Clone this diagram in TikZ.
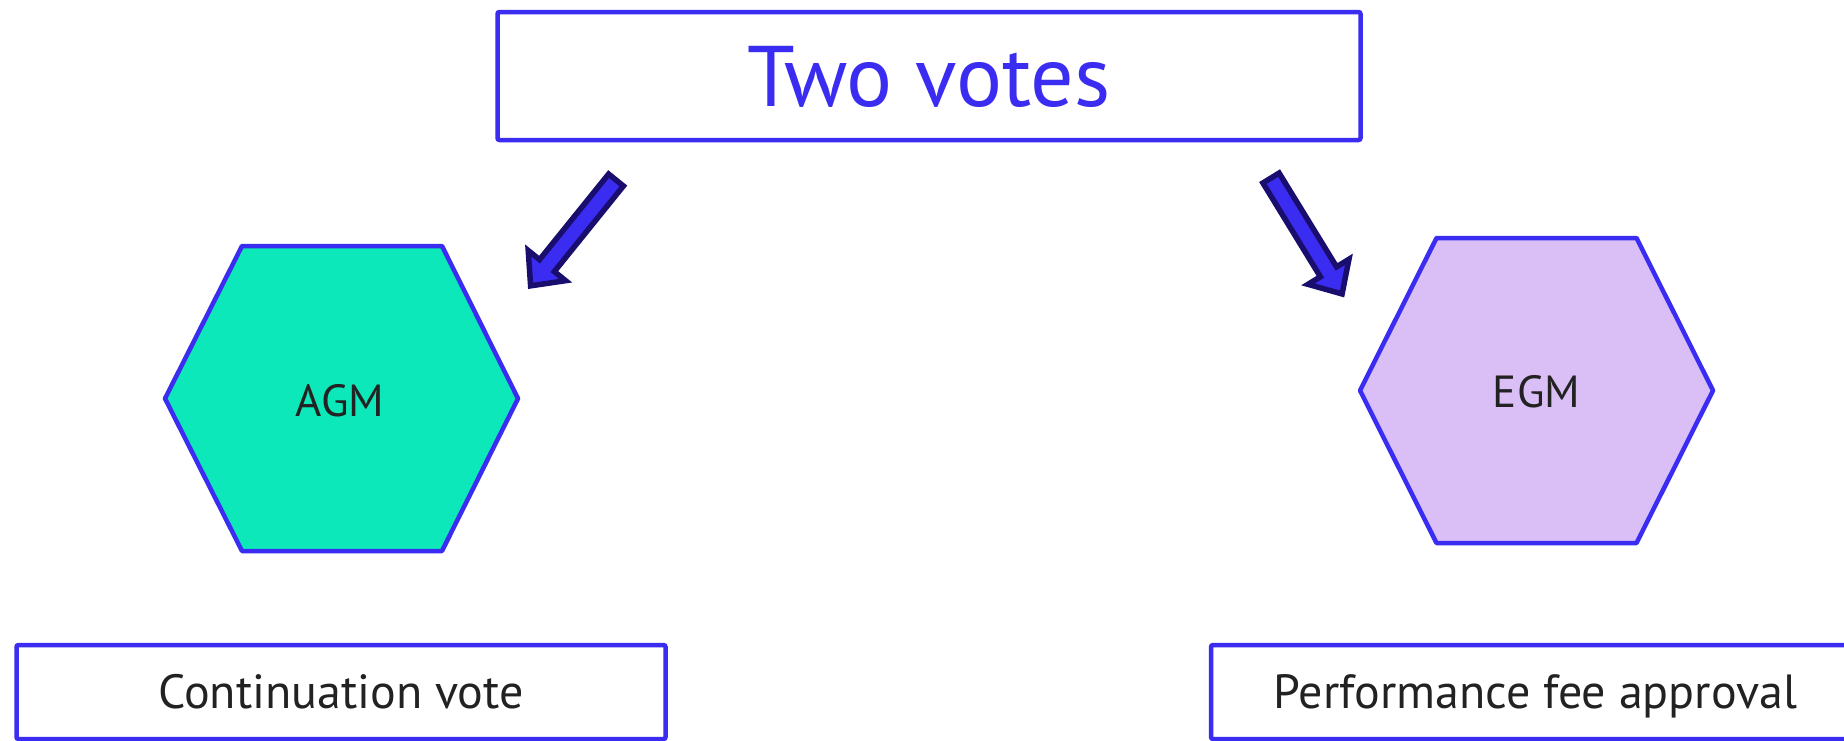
\documentclass[tikz,border=0pt]{standalone}
\usepackage{fontspec}
\setmainfont{PT Sans}
\definecolor{vblue}{RGB}{58,44,240}
\definecolor{navy}{RGB}{25,14,110}
\definecolor{tealfill}{RGB}{12,232,185}
\definecolor{lavfill}{RGB}{218,190,246}
\definecolor{darktext}{RGB}{34,34,34}
\begin{document}
\begin{tikzpicture}[x=1pt,y=-1pt,
  box/.style={draw=vblue, line width=4.5pt, rounded corners=2pt, fill=white, inner sep=0pt},
  hexa/.style={draw=vblue, line width=4.5pt, line join=round},
  hextext/.style={text=darktext, font=\fontsize{45}{54}\selectfont, text height=31.5pt, text depth=0pt, inner sep=0pt},
  bodytext/.style={text=darktext, font=\fontsize{48}{58}\selectfont, text height=33.6pt, text depth=0pt},
  titletext/.style={text=vblue, font=\fontsize{86}{100}\selectfont, text height=60pt, text depth=0pt},
  blockarrow/.style={fill=vblue, draw=navy, line width=5.5pt, line join=miter}]
\useasboundingbox (0,0) rectangle (1844,740);
\clip (0,0) rectangle (1844,740);
\fill[white] (0,0) rectangle (1844,740);
% top box
\node[box, titletext, minimum width=863pt, minimum height=128pt] (top) at (929,76) {Two votes};
% arrows
\draw[blockarrow, shift={(616,180)}, rotate=-128.9]
  (0,-9.5) -- (110,-9.5) -- (110,-24) -- (136,0) -- (110,24) -- (110,9.5) -- (0,9.5) -- cycle;
\draw[blockarrow, shift={(1271,178)}, rotate=-58.5]
  (0,-9.5) -- (110,-9.5) -- (110,-24) -- (136,0) -- (110,24) -- (110,9.5) -- (0,9.5) -- cycle;
% hexagons
\draw[hexa, fill=tealfill] (242,246) -- (442,246) -- (518,398.5) -- (442,551) -- (242,551) -- (165,398.5) -- cycle;
\node[hextext] (agm) at (340,401) {AGM};
\draw[hexa, fill=lavfill] (1436.5,238) -- (1636.5,238) -- (1713,390.5) -- (1636.5,543) -- (1436.5,543) -- (1360,390.5) -- cycle;
\node[hextext] (egm) at (1536.5,392) {EGM};
% bottom boxes
\node[box, bodytext, minimum width=649pt, minimum height=94pt] (cont) at (341,692) {Continuation vote};
\node[box, bodytext, minimum width=649pt, minimum height=94pt] (perf) at (1535.5,692) {Performance fee approval};
\end{tikzpicture}
\end{document}
